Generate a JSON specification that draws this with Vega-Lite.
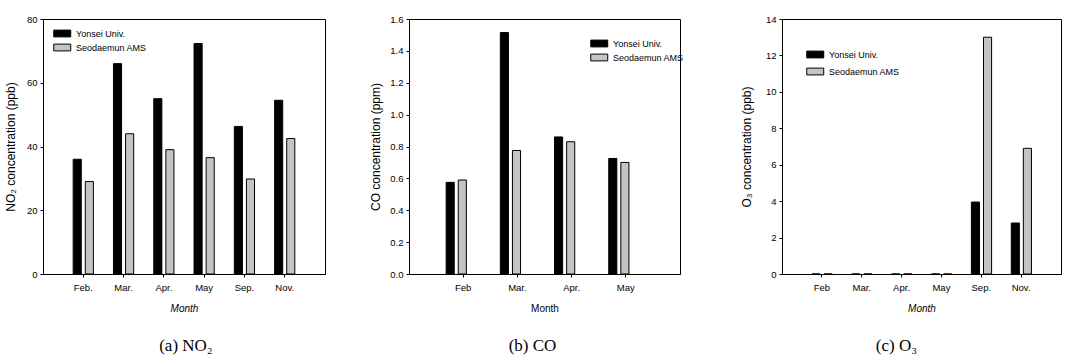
{
  "$schema": "https://vega.github.io/schema/vega-lite/v6.json",
  "background": "white",
  "padding": {"left": 3, "top": 13, "right": 2, "bottom": 2},
  "spacing": 43,
  "resolve": {"scale": {"color": "independent"}, "legend": {"color": "independent"}},
  "hconcat": [
    {
      "width": 282, "height": 255,
      "data": {"values": [
        {"month": "Feb.", "station": "Yonsei Univ.", "value": 36},
        {"month": "Feb.", "station": "Seodaemun AMS", "value": 29},
        {"month": "Mar.", "station": "Yonsei Univ.", "value": 66},
        {"month": "Mar.", "station": "Seodaemun AMS", "value": 44},
        {"month": "Apr.", "station": "Yonsei Univ.", "value": 55},
        {"month": "Apr.", "station": "Seodaemun AMS", "value": 39},
        {"month": "May", "station": "Yonsei Univ.", "value": 72.3},
        {"month": "May", "station": "Seodaemun AMS", "value": 36.5},
        {"month": "Sep.", "station": "Yonsei Univ.", "value": 46.3},
        {"month": "Sep.", "station": "Seodaemun AMS", "value": 29.8},
        {"month": "Nov.", "station": "Yonsei Univ.", "value": 54.5},
        {"month": "Nov.", "station": "Seodaemun AMS", "value": 42.5}
      ]},
      "mark": {"type": "bar", "stroke": "black", "strokeWidth": 1},
      "encoding": {
        "x": {"field": "month", "type": "nominal", "sort": ["Feb.", "Mar.", "Apr.", "May", "Sep.", "Nov."],
              "scale": {"paddingInner": 0, "paddingOuter": 0.5},
              "axis": {"title": "Month", "titleFontStyle": "italic", "labelAngle": 0}},
        "xOffset": {"field": "station", "type": "nominal", "sort": ["Yonsei Univ.", "Seodaemun AMS"],
                    "scale": {"paddingInner": 0.33, "paddingOuter": 0.83}},
        "y": {"field": "value", "type": "quantitative", "scale": {"domain": [0, 80], "nice": false},
              "axis": {"values": [0, 20, 40, 60, 80], "title": "NO₂ concentration (ppb)", "titlePadding": 9}},
        "color": {"field": "station", "type": "nominal", "sort": ["Yonsei Univ.", "Seodaemun AMS"],
                  "scale": {"domain": ["Yonsei Univ.", "Seodaemun AMS"], "range": ["#000000", "#c4c4c4"]},
                  "legend": {"orient": "none", "legendX": 10, "legendY": 9.5, "rowPadding": 2}}
      },
      "title": {"text": "(a)  NO₂", "orient": "bottom", "offset": 24, "dx": 2}
    },
    {
      "width": 271, "height": 255,
      "data": {"values": [
        {"month": "Feb", "station": "Yonsei Univ.", "value": 0.575},
        {"month": "Feb", "station": "Seodaemun AMS", "value": 0.59},
        {"month": "Mar.", "station": "Yonsei Univ.", "value": 1.515},
        {"month": "Mar.", "station": "Seodaemun AMS", "value": 0.775},
        {"month": "Apr.", "station": "Yonsei Univ.", "value": 0.86},
        {"month": "Apr.", "station": "Seodaemun AMS", "value": 0.83},
        {"month": "May", "station": "Yonsei Univ.", "value": 0.725},
        {"month": "May", "station": "Seodaemun AMS", "value": 0.70}
      ]},
      "mark": {"type": "bar", "stroke": "black", "strokeWidth": 1},
      "encoding": {
        "x": {"field": "month", "type": "nominal", "sort": ["Feb", "Mar.", "Apr.", "May"],
              "scale": {"paddingInner": 0, "paddingOuter": 0.5},
              "axis": {"title": "Month", "labelAngle": 0}},
        "xOffset": {"field": "station", "type": "nominal", "sort": ["Yonsei Univ.", "Seodaemun AMS"],
                    "scale": {"paddingInner": 0.35, "paddingOuter": 0.83}},
        "y": {"field": "value", "type": "quantitative", "scale": {"domain": [0, 1.6], "nice": false},
              "axis": {"values": [0, 0.2, 0.4, 0.6, 0.8, 1.0, 1.2, 1.4, 1.6], "format": ".1f", "title": "CO concentration (ppm)", "titlePadding": 7}},
        "color": {"field": "station", "type": "nominal", "sort": ["Yonsei Univ.", "Seodaemun AMS"],
                  "scale": {"domain": ["Yonsei Univ.", "Seodaemun AMS"], "range": ["#000000", "#c4c4c4"]},
                  "legend": {"orient": "none", "legendX": 170, "legendY": 8.5, "rowPadding": 2, "padding": 11}}
      },
      "title": {"text": "(b)  CO", "orient": "bottom", "offset": 24, "dx": -12}
    },
    {
      "width": 279, "height": 255,
      "data": {"values": [
        {"month": "Feb", "station": "Yonsei Univ.", "value": 0},
        {"month": "Feb", "station": "Seodaemun AMS", "value": 0},
        {"month": "Mar.", "station": "Yonsei Univ.", "value": 0},
        {"month": "Mar.", "station": "Seodaemun AMS", "value": 0},
        {"month": "Apr.", "station": "Yonsei Univ.", "value": 0},
        {"month": "Apr.", "station": "Seodaemun AMS", "value": 0},
        {"month": "May", "station": "Yonsei Univ.", "value": 0},
        {"month": "May", "station": "Seodaemun AMS", "value": 0},
        {"month": "Sep.", "station": "Yonsei Univ.", "value": 3.95},
        {"month": "Sep.", "station": "Seodaemun AMS", "value": 13.0},
        {"month": "Nov.", "station": "Yonsei Univ.", "value": 2.8},
        {"month": "Nov.", "station": "Seodaemun AMS", "value": 6.9}
      ]},
      "mark": {"type": "bar", "stroke": "black", "strokeWidth": 1},
      "encoding": {
        "x": {"field": "month", "type": "nominal", "sort": ["Feb", "Mar.", "Apr.", "May", "Sep.", "Nov."],
              "scale": {"paddingInner": 0, "paddingOuter": 0.5},
              "axis": {"title": "Month", "titleFontStyle": "italic", "labelAngle": 0}},
        "xOffset": {"field": "station", "type": "nominal", "sort": ["Yonsei Univ.", "Seodaemun AMS"],
                    "scale": {"paddingInner": 0.33, "paddingOuter": 0.83}},
        "y": {"field": "value", "type": "quantitative", "scale": {"domain": [0, 14], "nice": false},
              "axis": {"values": [0, 2, 4, 6, 8, 10, 12, 14], "title": "O₃ concentration (ppb)", "titlePadding": 12}},
        "color": {"field": "station", "type": "nominal", "sort": ["Yonsei Univ.", "Seodaemun AMS"],
                  "scale": {"domain": ["Yonsei Univ.", "Seodaemun AMS"], "range": ["#000000", "#c4c4c4"]},
                  "legend": {"orient": "none", "legendX": 24, "legendY": 30.5, "rowPadding": 5}}
      },
      "title": {"text": "(c)  O₃", "orient": "bottom", "offset": 24, "dx": -25}
    }
  ],
  "config": {
    "font": "Liberation Sans",
    "view": {"stroke": "black", "strokeWidth": 1},
    "axis": {
      "grid": false, "domainColor": "black", "tickColor": "black", "labelColor": "black", "titleColor": "black",
      "labelFont": "Liberation Sans", "labelFontSize": 9.5, "tickSize": 3, "labelPadding": 3,
      "titleFont": "Liberation Sans", "titleFontSize": 12, "titleFontWeight": "normal"
    },
    "axisX": {"labelPadding": 5, "titlePadding": 12, "titleFontSize": 10},
    "legend": {
      "title": null, "symbolType": "M-1,-0.8H3V0.8H-1Z", "symbolSize": 72, "symbolStrokeColor": "black",
      "symbolStrokeWidth": 1, "symbolOpacity": 1, "labelFont": "Liberation Sans", "labelFontSize": 9,
      "labelColor": "black", "labelOffset": 13, "padding": 0
    },
    "title": {"font": "Liberation Serif", "fontSize": 17, "fontWeight": "normal", "color": "black", "anchor": "middle"}
  }
}
